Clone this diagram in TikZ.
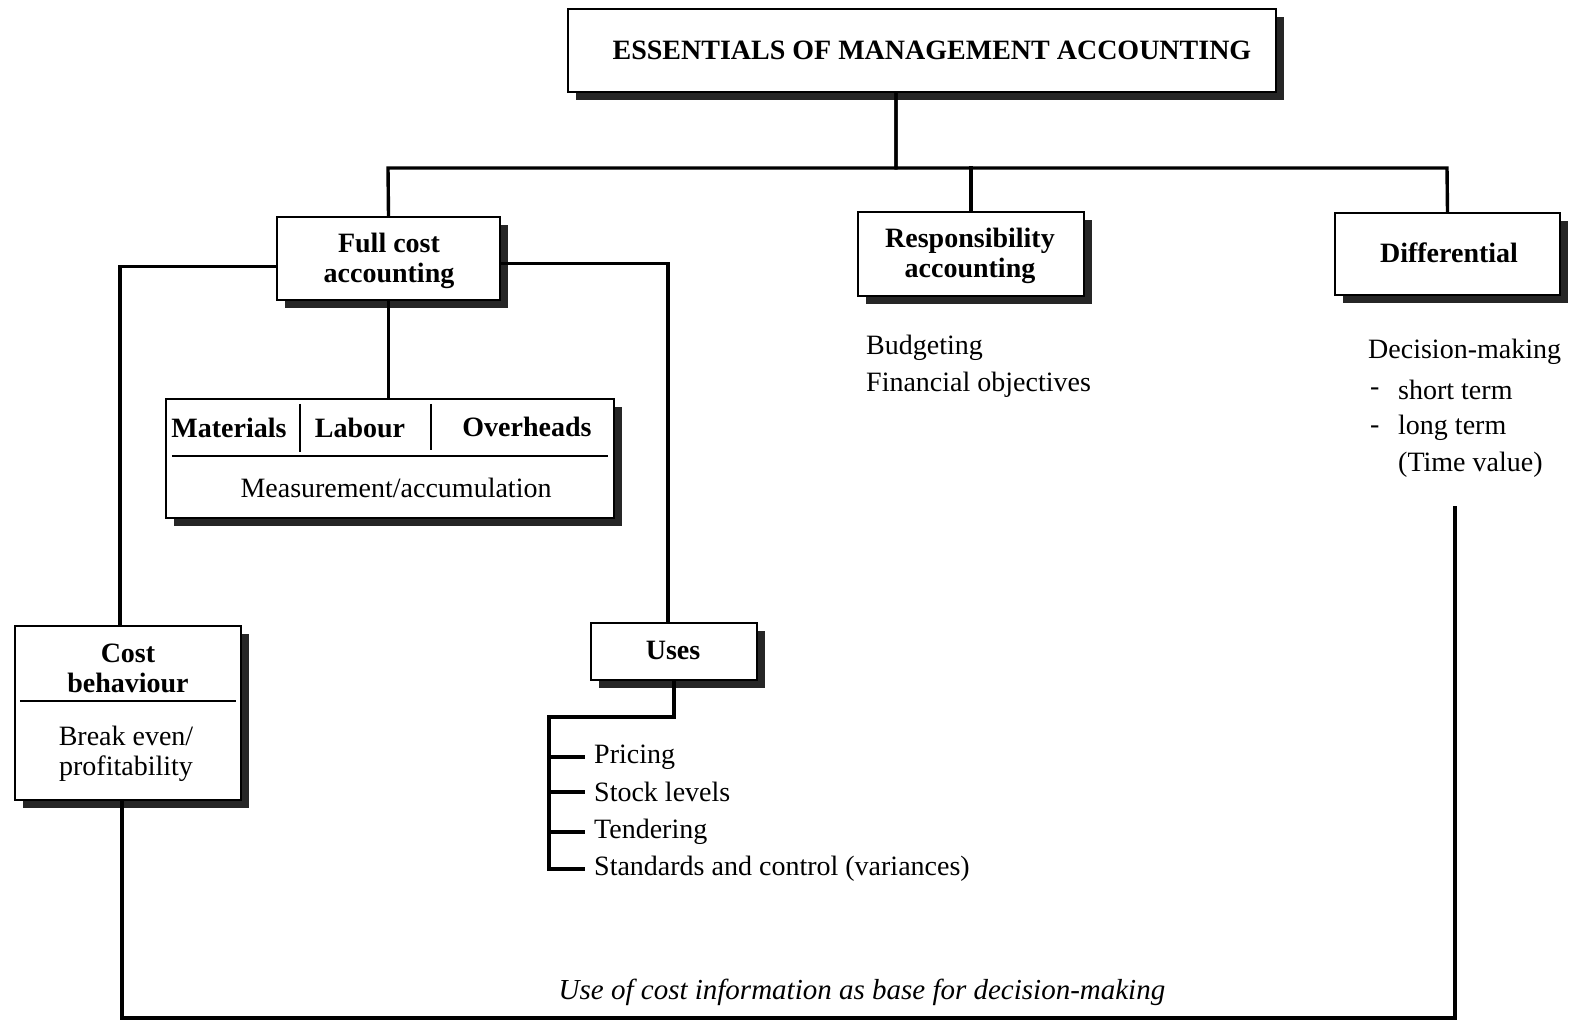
\documentclass[tikz,border=0pt]{standalone}
\usepackage{fontspec}
\setmainfont{Liberation Serif}
\usetikzlibrary{shadows,calc}

\begin{document}
\begin{tikzpicture}[x=1pt,y=-1pt,
  box/.style={draw, line width=2.4pt, fill=white, inner sep=0pt,
    drop shadow={shadow xshift=8pt, shadow yshift=-8pt, fill=black!85, opacity=1}},
  head/.style={font=\fontsize{28}{30}\selectfont\bfseries, align=center, inner sep=0pt},
  txt/.style={font=\fontsize{28}{30}\selectfont, inner sep=0pt},
  conn/.style={line width=3.4pt, line cap=rect},
  rule/.style={line width=2.2pt}]

\useasboundingbox[fill=white] (0,0) rectangle (1575,1024);

% boxes
\node[box, minimum width=708, minimum height=83] (top) at (922,50.5) {};
\node[box, minimum width=223, minimum height=83] (full) at (388.5,258.5) {};
\node[box, minimum width=226, minimum height=84] (resp) at (971,254) {};
\node[box, minimum width=225, minimum height=82] (diff) at (1447.5,254) {};
\node[box, minimum width=448, minimum height=119] (mat) at (390,458.5) {};
\node[box, minimum width=226, minimum height=174] (cost) at (128,713) {};
\node[box, minimum width=166, minimum height=57] (uses) at (674,651.5) {};

% box labels
\node[head] (topt) at (932,50) {ESSENTIALS OF MANAGEMENT ACCOUNTING};
\node[head] (fullt) at (389,261) {Full cost\\accounting};
\node[head] (respt) at (970,256) {Responsibility\\accounting};
\node[head] (difft) at (1449,253) {Differential};
\node[head] (usest) at (673,650) {Uses};
\node[head] (matm) at (229,428) {Materials};
\node[head] (matl) at (360,428) {Labour};
\node[head] (mato) at (527,427) {Overheads};
\node[txt] (matt) at (396,488) {Measurement/accumulation};
\node[head] (costt) at (128,668) {Cost\\behaviour};
\node[txt, align=center] (costb) at (126,754) {Break even/\\profitability};

% inner rules of the compound boxes
\draw[rule] ($(mat.north west)+(7,58)$) -- ($(mat.north east)+(-7,58)$);
\draw[rule] ($(mat.north west)+(135,6)$) -- ($(mat.north west)+(135,54)$);
\draw[rule] ($(mat.north west)+(266,6)$) -- ($(mat.north west)+(266,52)$);
\draw[rule] ($(cost.north west)+(6,76)$) -- ($(cost.north east)+(-6,76)$);

% free text under the boxes
\node[txt, anchor=west] (budg) at (866,348) {Budgeting};
\node[txt, anchor=west] (fino) at (866,385) {Financial objectives};
\node[txt, anchor=west] (dm) at (1368,352) {Decision-making};
\node[txt, anchor=west] (d1) at (1370,392) {-};
\node[txt, anchor=west] (st) at (1398,390) {short term};
\node[txt, anchor=west] (d2) at (1370,430) {-};
\node[txt, anchor=west] (lt) at (1398,428) {long term};
\node[txt, anchor=west] (tv) at (1398,465) {(Time value)};

% list of uses
\node[txt, anchor=west] (pr) at (594,757) {Pricing};
\node[txt, anchor=west] (sl) at (594,792) {Stock levels};
\node[txt, anchor=west] (te) at (594,832) {Tendering};
\node[txt, anchor=west] (sc) at (594,869) {Standards and control (variances)};

\node[font=\fontsize{29}{30}\selectfont\itshape, inner sep=0pt] (base) at (862,992)
  {Use of cost information as base for decision-making};

% connectors
\coordinate (busL) at (388,168);
\coordinate (busR) at (1447,168);
\coordinate (lbar) at (549,717);
\coordinate (rtop) at (1455,508);
\coordinate (rbot) at (1455,1018);

\draw[conn] ([xshift=-26]top.south) |- (busL) -- (full.north);
\draw[conn] ([xshift=-26]top.south) |- (busR) -- (diff.north);
\draw[conn] (resp.north) -- (resp.north |- busL);
\draw[conn] ([yshift=-8]full.west) -| ([xshift=-8]cost.north);
\draw[conn] ([yshift=-5]full.east) -| ([xshift=-6]uses.north);
\draw[conn] (full.south) -- (full.south |- mat.north);
\draw[conn] (uses.south) |- (lbar) |- ([xshift=-11]sc.west);
\draw[conn] (lbar |- pr.west) -- ([xshift=-11]pr.west);
\draw[conn] (lbar |- sl.west) -- ([xshift=-11]sl.west);
\draw[conn] (lbar |- te.west) -- ([xshift=-11]te.west);
\draw[conn] ([xshift=-6]cost.south) |- (rbot) -- (rtop);
\end{tikzpicture}
\end{document}
